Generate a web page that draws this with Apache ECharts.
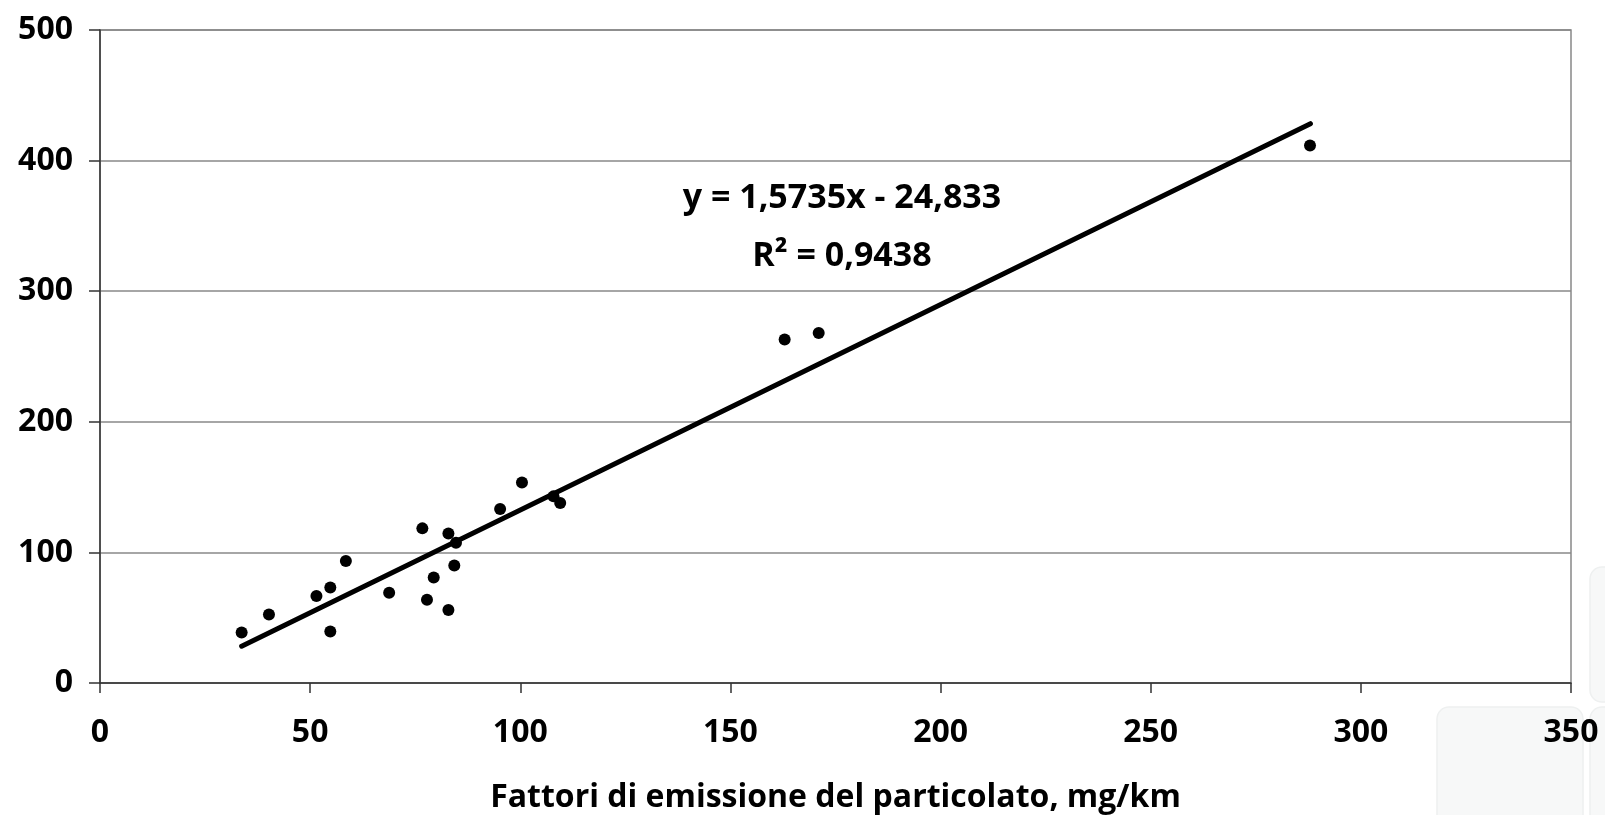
<!DOCTYPE html>
<html>
<head>
<meta charset="utf-8">
<style>
  html, body { margin: 0; padding: 0; background: #fff; }
  #chart { width: 1605px; height: 815px; }
</style>
<script src="https://cdn.jsdelivr.net/npm/echarts@6/dist/echarts.min.js"></script>
</head>
<body>
<div id="chart"></div>
<script>
// punti misurati (x = fattori di emissione, mg/km)
const pointsX = [33.7, 40.2, 51.5, 54.8, 54.8, 58.5, 68.8, 76.7, 77.8, 79.4, 82.9, 82.9, 84.7, 84.3, 95.2, 100.4, 107.9, 109.5, 162.9, 171.0, 287.9];
const pointsY = [38.6, 52.4, 66.7, 73.1, 39.4, 93.4, 69.1, 118.4, 63.8, 80.8, 114.5, 55.9, 107.4, 90.0, 133.2, 153.5, 142.9, 137.8, 263.0, 268.0, 411.6];

// linea di tendenza (estremi)
const trendX = [33.7, 288];
const trendY = [28.2, 428.3];

const xTicks = [0, 50, 100, 150, 200, 250, 300, 350];
const yTicks = [0, 100, 200, 300, 400, 500];

const xTitle = 'Fattori di emissione del particolato, mg/km';
const eqText = 'y = 1,5735x - 24,833';
const r2Text = 'R² = 0,9438';

const font = '"Open Sans", "Liberation Sans", sans-serif';

const chart = echarts.init(document.getElementById('chart'));

const option = {
    backgroundColor: '#fff',
    animation: false,
    grid: {
        left: 100,
        right: 34,
        top: 30,
        bottom: 132,
        outerBoundsMode: 'none',
        containLabel: false,
        show: true,
        borderColor: '#888',
        borderWidth: 1.5,
        backgroundColor: 'transparent'
    },
    xAxis: {
        type: 'value',
        min: xTicks[0],
        max: xTicks[xTicks.length - 1],
        interval: 50,
        name: xTitle,
        nameLocation: 'middle',
        nameGap: 99,
        nameTextStyle: { color: '#000', fontFamily: font, fontWeight: 'bold', fontSize: 32 },
        axisLine: { show: true, lineStyle: { color: '#333', width: 1.5 } },
        axisTick: { show: true, inside: false, length: 10, lineStyle: { color: '#333', width: 1.5 } },
        axisLabel: { color: '#000', fontFamily: font, fontWeight: 'bold', fontSize: 32, margin: 34 },
        splitLine: { show: false }
    },
    yAxis: {
        type: 'value',
        min: yTicks[0],
        max: yTicks[yTicks.length - 1],
        interval: 100,
        axisLine: { show: true, lineStyle: { color: '#333', width: 1.5 } },
        axisTick: { show: true, inside: false, length: 11, lineStyle: { color: '#333', width: 1.5 } },
        axisLabel: { color: '#000', fontFamily: font, fontWeight: 'bold', fontSize: 32, margin: 27 },
        splitLine: { show: true, lineStyle: { color: '#888', width: 1.5 } }
    },
    graphic: [
        // riquadri chiari dello sfondo della diapositiva
        { type: 'rect', z: -10, shape: { x: 1437, y: 707, width: 146, height: 130, r: 12 }, style: { fill: '#f7f8f8', stroke: '#eef0f0', lineWidth: 1.5 } },
        { type: 'rect', z: -10, shape: { x: 1590, y: 567, width: 40, height: 135, r: 12 }, style: { fill: '#f7f8f8', stroke: '#eef0f0', lineWidth: 1.5 } },
        { type: 'rect', z: -10, shape: { x: 1590, y: 707, width: 40, height: 130, r: 12 }, style: { fill: '#f7f8f8', stroke: '#eef0f0', lineWidth: 1.5 } },
        { type: 'text', x: 842, y: 198, z: 100, style: { text: eqText, fill: '#000', font: 'bold 34px ' + font, align: 'center', verticalAlign: 'middle' } },
        { type: 'text', x: 842, y: 256, z: 100, style: { text: r2Text, fill: '#000', font: 'bold 34px ' + font, align: 'center', verticalAlign: 'middle' } }
    ],
    series: [
        {
            type: 'scatter',
            data: pointsX.map((x, i) => [x, pointsY[i]]),
            symbol: 'circle',
            symbolSize: 12,
            itemStyle: { color: '#000', opacity: 1 },
            z: 3
        },
        {
            type: 'line',
            data: trendX.map((x, i) => [x, trendY[i]]),
            showSymbol: false,
            symbol: 'none',
            lineStyle: { color: '#000', width: 5, cap: 'round' },
            z: 4
        }
    ]
};

chart.setOption(option);
</script>
</body>
</html>
